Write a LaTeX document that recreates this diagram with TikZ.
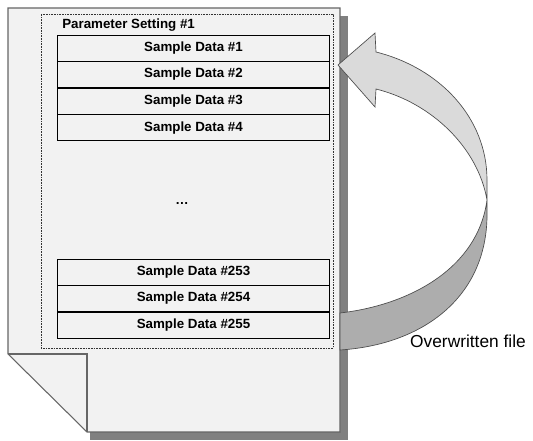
\documentclass[tikz,border=0pt]{standalone}
\usepackage{fontspec}
\setmainfont{Liberation Sans}
\usetikzlibrary{positioning}
\begin{document}
\begin{tikzpicture}[x=0.75pt,y=-0.75pt,
  databox/.style={draw=black,fill=pagefill,minimum width=204pt,minimum height=19.5pt,
    inner sep=0pt,font=\bfseries\fontsize{10}{12}\selectfont},
  plain/.style={inner sep=0pt}]
\definecolor{pagefill}{HTML}{F2F2F2}
\definecolor{pageline}{HTML}{666666}
\definecolor{shadowgray}{HTML}{808080}
\definecolor{arrowlight}{HTML}{DADADA}
\definecolor{arrowdark}{HTML}{ADADAD}
\useasboundingbox (0,0) rectangle (533,441);
% page with shadow and folded corner
\fill[shadowgray] (340,16) rectangle (348,440);
\fill[shadowgray] (90,432) rectangle (348,440);
\draw[pageline,fill=pagefill,line width=0.8pt] (8,8) -- (340,8) -- (340,432) -- (87,432) -- (8,354) -- cycle;
\draw[pageline,line width=0.8pt] (8,354) -- (87,354) -- (87,432);
% parameter block
\draw[black!80,dashed,dash pattern=on 1.2pt off 0.8pt,line width=0.5pt] (41,14) rectangle (333,348);
\node[plain,anchor=west,font=\bfseries\fontsize{10}{12}\selectfont] (param) at (62,25) {Parameter Setting \#1};
\node[databox] (s1) at (193.5,48) {Sample Data \#1};
\node[databox,below=0pt of s1] (s2) {Sample Data \#2};
\node[databox,below=0pt of s2] (s3) {Sample Data \#3};
\node[databox,below=0pt of s3] (s4) {Sample Data \#4};
\node[plain,font=\bfseries\fontsize{10}{12}\selectfont] (dots) at (182,204) {\dots};
\node[databox] (s253) at (193.5,272) {Sample Data \#253};
\node[databox,below=0pt of s253] (s254) {Sample Data \#254};
\node[databox,below=0pt of s254] (s255) {Sample Data \#255};
% twisted return arrow
\draw[black!70,fill=arrowdark,line width=0.5pt] (340,313) .. controls (410,305) and (478,268) .. (487,200)
      -- (487,218) .. controls (485,300) and (420,345) .. (340,350) -- cycle;
\draw[black!70,fill=arrowlight,line width=0.5pt] (338,65) -- (375,33) -- (376,52)
      .. controls (440,68) and (487,118) .. (487,180) -- (487,200)
      .. controls (478,148) and (432,103) .. (376,89) -- (375,107) -- cycle;
\node[plain,font=\fontsize{13}{15}\selectfont] (over) at (468,341) {Overwritten file};
\end{tikzpicture}
\end{document}
